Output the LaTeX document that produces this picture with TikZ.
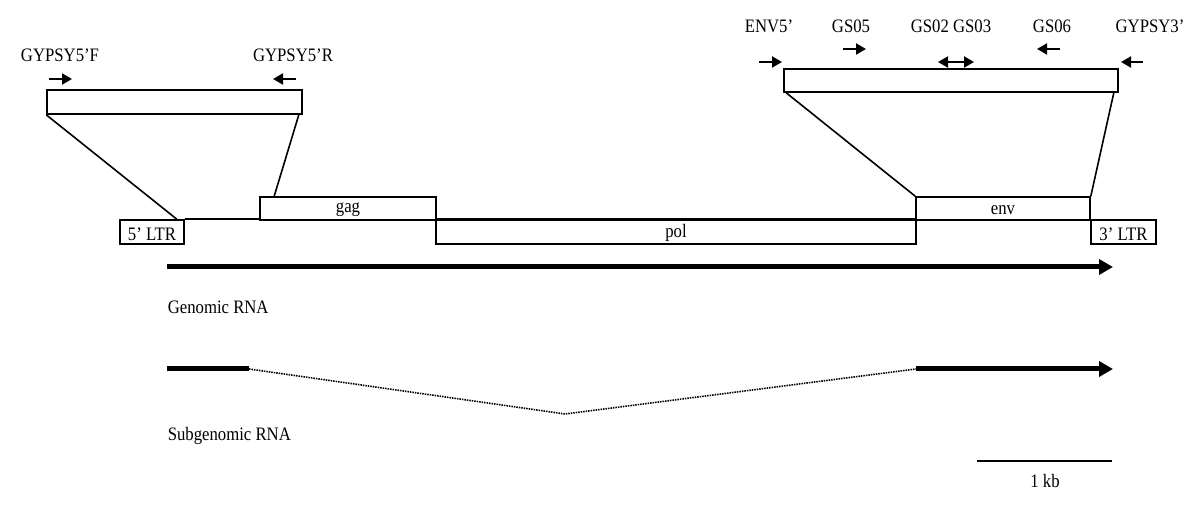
\documentclass[tikz,border=0pt]{standalone}
\usepackage{fontspec}
\setmainfont{Liberation Serif}[FakeStretch=0.88]
\usetikzlibrary{arrows.meta}

\begin{document}
\begin{tikzpicture}[x=1pt,y=-1pt,line width=1.6pt,font=\fontsize{19}{22}\selectfont]
\tikzstyle{box}=[draw=black,fill=white,inner sep=0pt,text height=12pt,text depth=0pt]
\tikzstyle{lbl}=[anchor=base,inner sep=0pt]
\tikzstyle{primer}=[-{Triangle[length=10pt,width=11pt]},line width=2pt]
\tikzstyle{rna}=[line width=5pt]
\tikzstyle{rnaend}=[-{Triangle[length=14pt,width=15pt]},line width=5pt]
\useasboundingbox (0,0) rectangle (1200,510);
% genome map
\node[box,text height=18pt,minimum width=64pt,minimum height=24pt] (ltr5) at (152,232) {5’ LTR};
\node[box,text height=18pt,minimum width=65pt,minimum height=24pt] (ltr3) at (1123.5,232) {3’ LTR};
\draw (ltr5.north east) -- (ltr3.north west);
\node[box,text height=9pt,minimum width=176pt,minimum height=23pt] (gag) at (348,208.5) {gag};
\node[box,minimum width=480pt,minimum height=24pt] (pol) at (676,232) {pol};
\node[box,minimum width=174pt,minimum height=23pt] (env) at (1003,208.5) {env};
% enlarged regions
\node[box,minimum width=255pt,minimum height=24pt] (zoom5) at (174.5,102) {};
\node[box,minimum width=334pt,minimum height=23pt] (zoom3) at (951,80.5) {};
\draw (zoom5.south west) -- ([xshift=-8pt]ltr5.north east);
\draw ([xshift=-4pt]zoom5.south east) -- ([xshift=15pt]gag.north west);
\draw ([xshift=3pt]zoom3.south west) -- (env.north west);
\draw ([xshift=-5pt]zoom3.south east) -- (env.north east);
% primers
\node[lbl] (gy5f) at (60,62) {GYPSY5’F};
\node[lbl] (gy5r) at (293,62) {GYPSY5’R};
\node[lbl] (env5) at (769,33) {ENV5’};
\node[lbl] (gs05) at (851,33) {GS05};
\node[lbl] (gs23) at (951,33) {GS02 GS03};
\node[lbl] (gs06) at (1052,33) {GS06};
\node[lbl] (gy3) at (1150,33) {GYPSY3’};
\coordinate (p1) at (49,79);
\coordinate (p2) at (296,79);
\coordinate (p3) at (759,62);
\coordinate (p4) at (843,49);
\coordinate (p5) at (938,62);
\coordinate (p6) at (1060,49);
\coordinate (p7) at (1143,62);
\draw[primer] (p1) -- ++(23,0);
\draw[primer] (p2) -- ++(-23,0);
\draw[primer] (p3) -- ++(23,0);
\draw[primer] (p4) -- ++(23,0);
\draw[primer,{Triangle[length=10pt,width=11pt]}-{Triangle[length=10pt,width=11pt]}] (p5) -- ++(36,0);
\draw[primer] (p6) -- ++(-23,0);
\draw[primer] (p7) -- ++(-22,0);
% transcripts
\coordinate (g1) at (167,267);
\coordinate (g2) at (1113,267);
\draw[rnaend] (g1) -- (g2);
\node[lbl,anchor=base west] (genrna) at (167,314) {Genomic RNA};
\coordinate (s1) at (167,369);
\coordinate (s2) at (249,369);
\coordinate (s3) at (565,414);
\coordinate (s4) at (916,369);
\coordinate (s5) at (1113,369);
\draw[rna] (s1) -- (s2);
\draw[line width=1.6pt,dash pattern=on 1.5pt off 1pt] (s2) -- (s3) -- (s4);
\draw[rnaend] (s4) -- (s5);
\node[lbl,anchor=base west] (subrna) at (167,441) {Subgenomic RNA};
% scale
\coordinate (k1) at (977,461);
\coordinate (k2) at (1112,461);
\draw (k1) -- (k2);
\node[lbl] (kb) at (1045,488) {1 kb};
\end{tikzpicture}
\end{document}
